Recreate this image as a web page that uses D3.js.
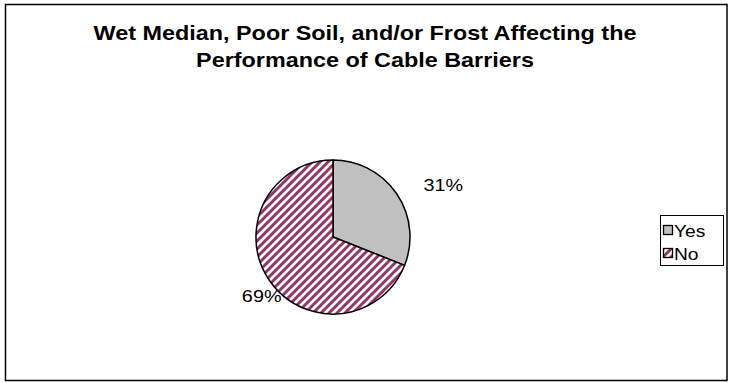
<!DOCTYPE html>
<html><head><meta charset="utf-8">
<script src="https://cdn.jsdelivr.net/npm/d3@7"></script>
<style>body{margin:0;background:#fff}svg{display:block}</style>
</head><body>
<svg id="c" width="729" height="383"></svg>
<script>
const titleLines = ["Wet Median, Poor Soil, and/or Frost Affecting the", "Performance of Cable Barriers"];
const categories = ["Yes", "No"];
const values = [31, 69];
const labels = ["31%", "69%"];

const svg = d3.select("#c");
const font = "Liberation Sans, Arial, sans-serif";
const sx = 1.2; // horizontal text stretch seen in the reference

const defs = svg.append("defs");
const pat = defs.append("pattern").attr("id","hatch").attr("patternUnits","userSpaceOnUse")
  .attr("width",8).attr("height",8);
pat.append("rect").attr("width",8).attr("height",8).attr("fill","#fff");
pat.append("path").attr("d","M-2,2 L2,-2 M0,8 L8,0 M6,10 L10,6")
  .attr("stroke","#993366").attr("stroke-width",3);

svg.append("rect").attr("x",5.5).attr("y",4.5).attr("width",721.5).attr("height",376)
  .attr("fill","#fff").attr("stroke","#000").attr("stroke-width",1.5);

svg.selectAll("text.title").data(titleLines).join("text").attr("class","title")
  .attr("transform",(d,i)=>`translate(365,${40+i*27}) scale(${sx},1)`).attr("text-anchor","middle")
  .attr("font-family",font).attr("font-weight","bold").attr("font-size",19.5)
  .text(d=>d);

const cx = 333, cy = 237, r = 77;
const pie = d3.pie().sort(null).value(d=>d)(values);
const arc = d3.arc().innerRadius(0).outerRadius(r);
const fills = ["#c0c0c0","url(#hatch)"];
const g = svg.append("g").attr("transform",`translate(${cx},${cy})`);
g.selectAll("path").data(pie).join("path").attr("d",arc)
  .attr("fill",(d,i)=>fills[i]).attr("stroke","#000").attr("stroke-width",1.5)
  .attr("stroke-linejoin","round");

// best-fit style label placement, relative to slice mid-angle
const labDist = [r+45, r+16];
const labAngShift = [0.155, -0.10];
g.selectAll("text.lab").data(pie).join("text").attr("class","lab")
  .attr("transform",(d,i)=>{
    const a = (d.startAngle+d.endAngle)/2 + labAngShift[i];
    return `translate(${labDist[i]*Math.sin(a)},${-labDist[i]*Math.cos(a)}) scale(${sx},1)`;})
  .attr("text-anchor","middle").attr("dy","0.35em")
  .attr("font-family",font).attr("font-size",16.5).text((d,i)=>labels[i]);

const lg = svg.append("g");
lg.append("rect").attr("x",660.5).attr("y",215.5).attr("width",63).attr("height",50)
  .attr("fill","#fff").attr("stroke","#000").attr("stroke-width",1);
categories.forEach((c,i)=>{
  const y = 231 + i*23;
  lg.append("rect").attr("x",663.5).attr("y",y-5.5).attr("width",9).attr("height",9)
    .attr("fill",fills[i]).attr("stroke","#000").attr("stroke-width",1.3);
  lg.append("text").attr("transform",`translate(674,${y}) scale(${sx},1)`).attr("dy","0.35em")
    .attr("font-family",font).attr("font-size",16).text(c);
});
</script>
</body></html>
